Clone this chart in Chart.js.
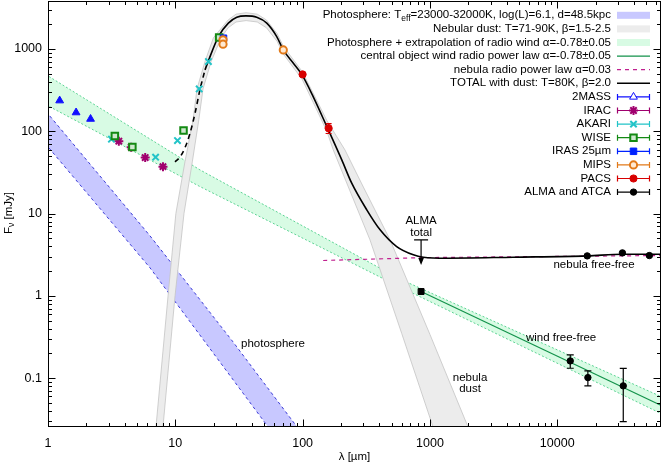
<!DOCTYPE html>
<html><head><meta charset="utf-8">
<script src="https://cdn.jsdelivr.net/npm/chart.js@4.4.1/dist/chart.umd.min.js"></script>
<style>html,body{margin:0;padding:0;background:#fff;overflow:hidden}</style>
</head><body>
<canvas id="c" width="664" height="464"></canvas>
<script>
// ---------------- data ----------------
const twoMassLambda = [1.235, 1.662, 2.159];
const twoMassFlux   = [236, 169, 141];
const iracLambda = [3.6, 4.5, 5.8, 8.0];
const iracFlux   = [75.8, 64.1, 47.9, 37.2];
const akariLambda = [3.15, 7.0, 10.4, 15.4, 18.2];
const akariFlux   = [80.2, 48.4, 77.1, 327, 703];
const wiseLambda = [3.35, 4.6, 11.6, 22.1];
const wiseFlux   = [87.9, 64.6, 102, 1376];
const irasLambda = [23.9];
const irasFlux   = [1352];
const mipsLambda = [23.7, 23.7, 70.5];
const mipsFlux   = [1291, 1144, 975];
const pacsLambda = [100, 160];
const pacsFlux   = [491, 109];
const pacsErr    = [22, 15];
const radioLambda = [852, 12650, 17400, 33000, 17200, 32500, 52900];
const radioFlux   = [1.13, 0.162, 0.1016, 0.0806, 3.06, 3.33, 3.09];
const radioErr    = [0, 0.030, 0.021, 0.051, 0, 0, 0];
const almaLimitLambda = [852];
const almaLimitFlux   = [4.8];
const almaLimitArrowTo = [2.38];

// model curves
const photoUpperLambda = [0.9, 1, 6.33, 28.4, 90.3, 200];
const photoUpperFlux   = [198, 163, 5.36, 0.276, 0.0256, 0.005];
const photoLowerLambda = [0.9, 1, 6.33, 53.5, 200];
const photoLowerFlux   = [79, 64.7, 2.19, 0.0256, 0.00165];

const dustUpperLambda = [6.66, 7.05, 8.77, 10.1, 11.9, 13.8, 14.8, 17.1, 19.9, 22, 26, 30, 36, 44, 52, 63, 71, 99, 121, 155, 215, 300, 486, 1000, 1991, 2570];
const dustUpperFlux   = [0.01, 0.0256, 1, 10, 42.5, 138, 327, 703, 1364, 1650, 2250, 2650, 2760, 2650, 2250, 1540, 1060, 535, 290, 135, 59.4, 21, 4.8, 0.34, 0.0256, 0.01];
const dustLowerLambda = [7.56, 8.0, 9.95, 11.7, 13.6, 15.3, 16.5, 19.1, 22.9, 26, 30, 36, 44, 52, 63, 71, 99, 121, 155, 174, 240, 338, 600, 1057, 1300];
const dustLowerFlux   = [0.01, 0.0256, 1, 10, 42.5, 138, 327, 703, 1364, 1810, 2130, 2213, 2130, 1810, 1240, 855, 430, 225, 100, 59.4, 17.5, 4.8, 0.35, 0.0256, 0.01];

const windBandLambda = [0.9, 1, 15.6, 582, 68200, 80000];
const windBandUpper  = [521, 471, 34.0, 1.60, 0.058, 0.052];
const windBandLower  = [222, 204, 21.3, 1.28, 0.036, 0.032];

const windLineLambda = [852, 80000];
const windLineFlux   = [1.13, 0.0402];

const nebLineLambda = [145, 900, 80000];
const nebLineFlux   = [2.69, 2.92, 3.1];

const totalDashLambda = [9.95, 10.9, 11.9, 13.0, 14.3, 15.6, 17.1];
const totalDashFlux   = [42.5, 48.9, 62.9, 93, 167, 318, 557];
const totalLambda = [17.1, 18.1, 21.8, 26.1, 30.4, 35.9, 43.6, 52.3, 62.6, 70.5, 84.6, 98.5, 121, 155, 203, 243, 319, 406, 548, 741, 887, 1355, 4520, 17200, 32500, 80000];
const totalFlux   = [557, 703, 1416, 2061, 2432, 2524, 2432, 2061, 1416, 975, 672, 491, 264, 114, 44.9, 23.4, 11.1, 6.34, 3.97, 3.15, 2.95, 2.87, 2.95, 3.06, 3.2, 3.2];

const xTickLabels = ['1', '10', '100', '1000', '10000'];
const yTickLabels = ['0.1', '1', '10', '100', '1000'];

// ---------------- helpers ----------------
const FAM = "'Liberation Sans', Arial, Helvetica, sans-serif";
const xy = (L, F) => L.map((l, i) => ({x: l, y: F[i]}));
const band = (Lu, Fu, Ll, Fl) => xy(Lu, Fu).concat(xy(Ll, Fl).reverse());
const isDecade = v => Math.abs(Math.log10(v) - Math.round(Math.log10(v))) < 1e-9;
const fmt = v => String(Number(v.toPrecision(6)));

const ST = {
  twoMass: {c: '#1010ff', s: 'triangle', r: 4.5, f: '#1010ff', bw: 1, lf: '#ffffff'},
  irac:    {c: '#a0006e', s: 'star', r: 4.5, f: '#a0006e', bw: 2},
  akari:   {c: '#22c4c8', s: 'crossRot', r: 4.5, f: '#22c4c8', bw: 2},
  wise:    {c: '#138a13', s: 'rect', r: 4.6, f: '#cfe8cf', bw: 2},
  iras:    {c: '#0022ff', s: 'rect', r: 4.6, f: '#0022ff', bw: 1},
  mips:    {c: '#e27a1a', s: 'circle', r: 3.6, f: '#ffe9d2', bw: 2},
  pacs:    {c: '#d80000', s: 'circle', r: 3.6, f: '#d80000', bw: 1},
  alma:    {c: '#000000', s: 'circle', r: 3.2, f: '#000000', bw: 1},
};
const ptDs = (L, F, st, order, extra) => Object.assign({
  data: xy(L, F), showLine: false, order: order,
  pointStyle: st.s, pointRadius: st.r, pointBorderColor: st.c, pointBackgroundColor: st.f,
  pointBorderWidth: st.bw, pointHoverRadius: st.r
}, extra || {});

const datasets = [
  ptDs(radioLambda, radioFlux, ST.alma, 1, {pointStyle: radioLambda.map((l, i) => i === 0 ? 'rect' : 'circle'), pointRadius: radioLambda.map((l, i) => i === 0 ? 4.2 : 3.2)}),
  ptDs(pacsLambda, pacsFlux, ST.pacs, 2),
  ptDs(mipsLambda, mipsFlux, ST.mips, 2),
  ptDs(irasLambda, irasFlux, ST.iras, 3),
  ptDs(wiseLambda, wiseFlux, ST.wise, 3),
  ptDs(akariLambda, akariFlux, ST.akari, 3),
  ptDs(iracLambda, iracFlux, ST.irac, 3),
  ptDs(twoMassLambda, twoMassFlux, ST.twoMass, 3),
  {data: xy(totalLambda, totalFlux), showLine: true, borderColor: '#000', borderWidth: 1.6, pointRadius: 0, order: 5, clip: 0, cubicInterpolationMode: 'monotone'},
  {data: xy(totalDashLambda, totalDashFlux), showLine: true, borderColor: '#000', borderWidth: 1.6, borderDash: [5, 4], pointRadius: 0, order: 5, clip: 0, cubicInterpolationMode: 'monotone'},
  {data: xy(nebLineLambda, nebLineFlux), showLine: true, borderColor: '#c0208f', borderWidth: 1.2, borderDash: [4, 4], pointRadius: 0, order: 6, clip: 0},
  {data: xy(windLineLambda, windLineFlux), showLine: true, borderColor: '#12924a', borderWidth: 1.2, pointRadius: 0, order: 7, clip: 0},
  {data: band(dustUpperLambda, dustUpperFlux, dustLowerLambda, dustLowerFlux), showLine: true, fill: 'shape',
   backgroundColor: '#ececec', borderColor: '#c4c4c4', borderWidth: 0.8, pointRadius: 0, order: 20, clip: 0},
  {data: band(windBandLambda, windBandUpper, windBandLambda, windBandLower), showLine: true, fill: 'shape',
   backgroundColor: '#d8fbe4', borderColor: '#5cd394', borderWidth: 1, borderDash: [2, 2], pointRadius: 0, order: 21, clip: 0},
  {data: band(photoUpperLambda, photoUpperFlux, photoLowerLambda, photoLowerFlux), showLine: true, fill: 'shape',
   backgroundColor: '#c8c8ff', borderColor: '#3a3ad6', borderWidth: 1, borderDash: [3, 3], pointRadius: 0, order: 22, clip: 0},
];

// ---------------- decorations ----------------
function drawPt(ctx, st, x, y, fillOverride) {
  ctx.save();
  ctx.fillStyle = fillOverride || st.f; ctx.strokeStyle = st.c; ctx.lineWidth = st.bw;
  Chart.helpers.drawPoint(ctx, {pointStyle: st.s, radius: st.r, rotation: 0, borderWidth: st.bw}, x, y);
  ctx.restore();
}
function errBars(ctx, xs, ys, L, F, E, color, cap) {
  ctx.save(); ctx.strokeStyle = color; ctx.lineWidth = 1.2;
  L.forEach((l, i) => {
    if (!E[i]) return;
    const x = xs.getPixelForValue(l), y1 = ys.getPixelForValue(F[i] - E[i]), y2 = ys.getPixelForValue(F[i] + E[i]);
    ctx.beginPath();
    ctx.moveTo(x, y1); ctx.lineTo(x, y2);
    ctx.moveTo(x - cap, y1); ctx.lineTo(x + cap, y1);
    ctx.moveTo(x - cap, y2); ctx.lineTo(x + cap, y2);
    ctx.stroke();
  });
  ctx.restore();
}
const legendRows = [
  {parts: [['Photosphere: T', 0], ['eff', 1], ['=23000-32000K, log(L)=6.1, d=48.5kpc', 0]], type: 'box', fill: '#c8c8ff'},
  {parts: [['Nebular dust: T=71-90K, \u03b2=1.5-2.5', 0]], type: 'box', fill: '#ececec'},
  {parts: [['Photosphere + extrapolation of radio wind \u03b1=-0.78\u00b10.05', 0]], type: 'box', fill: '#d8fbe4'},
  {parts: [['central object wind radio power law \u03b1=-0.78\u00b10.05', 0]], type: 'line', color: '#12924a', dash: [], w: 1.2},
  {parts: [['nebula radio power law \u03b1=0.03', 0]], type: 'line', color: '#c0208f', dash: [4, 4], w: 1.2},
  {parts: [['TOTAL with dust: T=80K, \u03b2=2.0', 0]], type: 'line', color: '#000', dash: [], w: 1.6},
  {parts: [['2MASS', 0]], type: 'pt', st: ST.twoMass},
  {parts: [['IRAC', 0]], type: 'pt', st: ST.irac},
  {parts: [['AKARI', 0]], type: 'pt', st: ST.akari},
  {parts: [['WISE', 0]], type: 'pt', st: ST.wise},
  {parts: [['IRAS 25\u00b5m', 0]], type: 'pt', st: ST.iras},
  {parts: [['MIPS', 0]], type: 'pt', st: ST.mips},
  {parts: [['PACS', 0]], type: 'pt', st: ST.pacs},
  {parts: [['ALMA and ATCA', 0]], type: 'pt', st: ST.alma},
];
const LF = '11.5px ' + FAM, LFS = '8.5px ' + FAM;

const deco = {
  id: 'deco',
  afterDatasetsDraw(chart) {
    const ctx = chart.ctx, xs = chart.scales.x, ys = chart.scales.y;
    errBars(ctx, xs, ys, pacsLambda, pacsFlux, pacsErr, ST.pacs.c, 3);
    errBars(ctx, xs, ys, radioLambda, radioFlux, radioErr, '#000', 3.5);
    ctx.save(); ctx.strokeStyle = '#000'; ctx.fillStyle = '#000'; ctx.lineWidth = 1.2;
    almaLimitLambda.forEach((l, i) => {
      const x = xs.getPixelForValue(l), y0 = ys.getPixelForValue(almaLimitFlux[i]), y1 = ys.getPixelForValue(almaLimitArrowTo[i]);
      ctx.beginPath(); ctx.moveTo(x - 7, y0); ctx.lineTo(x + 7, y0); ctx.moveTo(x, y0); ctx.lineTo(x, y1 - 4); ctx.stroke();
      ctx.beginPath(); ctx.moveTo(x - 2.8, y1 - 7); ctx.lineTo(x + 2.8, y1 - 7); ctx.lineTo(x, y1); ctx.closePath(); ctx.fill();
    });
    ctx.restore();
  },
  afterDraw(chart) {
    const ctx = chart.ctx, a = chart.chartArea, xs = chart.scales.x, ys = chart.scales.y;
    ctx.save();
    ctx.strokeStyle = '#000'; ctx.lineWidth = 1;
    ctx.strokeRect(Math.round(a.left) + 0.5, Math.round(a.top) + 0.5, Math.round(a.right - a.left) - 1, Math.round(a.bottom - a.top) - 1);
    ctx.beginPath();
    const L = Math.round(a.left) + 0.5, R = Math.round(a.right) - 0.5, T = Math.round(a.top) + 0.5, B = Math.round(a.bottom) - 0.5;
    for (let d = 0; d <= 5; d++) for (let m = 1; m <= 9; m++) {
      const v = m * Math.pow(10, d);
      if (v < xs.min || v > xs.max) continue;
      const x = Math.round(xs.getPixelForValue(v)) + 0.5, len = m === 1 ? 7 : 3.5;
      ctx.moveTo(x, B); ctx.lineTo(x, B - len); ctx.moveTo(x, T); ctx.lineTo(x, T + len);
    }
    for (let d = -2; d <= 3; d++) for (let m = 1; m <= 9; m++) {
      const v = m * Math.pow(10, d);
      if (v < ys.min || v > ys.max) continue;
      const y = Math.round(ys.getPixelForValue(v)) + 0.5, len = m === 1 ? 7 : 3.5;
      ctx.moveTo(L, y); ctx.lineTo(L + len, y); ctx.moveTo(R, y); ctx.lineTo(R - len, y);
    }
    ctx.stroke();
    ctx.fillStyle = '#000'; ctx.font = LF; ctx.textAlign = 'center'; ctx.textBaseline = 'middle';
    const txt = (s, l, f) => ctx.fillText(s, xs.getPixelForValue(l), ys.getPixelForValue(f));
    txt('ALMA', 852, 8.15); txt('total', 852, 5.83);
    txt('nebula free-free', 19450, 2.38);
    txt('wind free-free', 10720, 0.311);
    txt('nebula', 2065, 0.1); txt('dust', 2065, 0.0742);
    txt('photosphere', 58.5, 0.261);
    ctx.fillText('\u03bb [\u00b5m]', (a.left + a.right) / 2, 456.5);
    ctx.save(); ctx.translate(8.5, 213); ctx.rotate(-Math.PI / 2);
    const p1 = 'F', p3 = ' [mJy]';
    ctx.font = LF; const w1 = ctx.measureText(p1).width, w3 = ctx.measureText(p3).width;
    ctx.font = LFS; const w2 = ctx.measureText('\u03bd').width;
    let x0 = -(w1 + w2 + w3) / 2; ctx.textAlign = 'left';
    ctx.font = LF; ctx.fillText(p1, x0, 0);
    ctx.font = LFS; ctx.fillText('\u03bd', x0 + w1, 3);
    ctx.font = LF; ctx.fillText(p3, x0 + w1 + w2, 0);
    ctx.restore();
    const xr = 611, s0 = 617, s1 = 650;
    legendRows.forEach((r, i) => {
      const y = 15.3 + i * 13.6;
      let tw = 0;
      r.parts.forEach(p => { ctx.font = p[1] ? LFS : LF; tw += ctx.measureText(p[0]).width; });
      let x = xr - tw; ctx.textAlign = 'left'; ctx.fillStyle = '#000';
      r.parts.forEach(p => { ctx.font = p[1] ? LFS : LF; ctx.fillText(p[0], x, y + (p[1] ? 3 : 0)); x += ctx.measureText(p[0]).width; });
      if (r.type === 'box') { ctx.fillStyle = r.fill; ctx.fillRect(s0, y - 3.5, s1 - s0, 7); }
      else if (r.type === 'line') {
        ctx.save(); ctx.strokeStyle = r.color; ctx.lineWidth = r.w; ctx.setLineDash(r.dash);
        ctx.beginPath(); ctx.moveTo(s0, y); ctx.lineTo(s1, y); ctx.stroke(); ctx.restore();
      } else {
        ctx.save(); ctx.strokeStyle = r.st.c; ctx.lineWidth = 1.2;
        ctx.beginPath(); ctx.moveTo(s0, y); ctx.lineTo(s1, y);
        ctx.moveTo(s0 + 0.5, y - 3); ctx.lineTo(s0 + 0.5, y + 3); ctx.moveTo(s1 - 0.5, y - 3); ctx.lineTo(s1 - 0.5, y + 3);
        ctx.stroke(); ctx.restore();
        drawPt(ctx, r.st, (s0 + s1) / 2, y, r.st.lf);
      }
    });
    ctx.restore();
  }
};

const noPad = s => { s.paddingTop = 0; s.paddingBottom = 0; s.paddingLeft = 0; s.paddingRight = 0; };

new Chart(document.getElementById('c'), {
  type: 'scatter',
  data: {datasets},
  options: {
    responsive: false, animation: false, devicePixelRatio: 1,
    layout: {autoPadding: false, padding: {top: 1, right: 3, left: 0, bottom: 0}},
    plugins: {legend: {display: false}, tooltip: {enabled: false}},
    events: [],
    scales: {
      x: {type: 'logarithmic', min: 1, max: 65300, bounds: 'data', offset: false,
          grid: {display: false, drawTicks: false}, border: {display: false},
          ticks: {autoSkip: false, maxRotation: 0, minRotation: 0, padding: 9, color: '#000', font: {family: FAM, size: 12.5},
                  callback: v => (isDecade(v) && xTickLabels.includes(fmt(v))) ? fmt(v) : ''},
          afterFit: s => { s.height = 37; noPad(s); }},
      y: {type: 'logarithmic', min: 0.0255, max: 3830, bounds: 'data', offset: false,
          grid: {display: false, drawTicks: false}, border: {display: false},
          ticks: {autoSkip: false, padding: 6, color: '#000', font: {family: FAM, size: 12.5},
                  callback: v => (isDecade(v) && yTickLabels.includes(fmt(v))) ? fmt(v) : ''},
          afterFit: s => { s.width = 48; noPad(s); }}
    }
  },
  plugins: [deco]
});
</script>
</body></html>
